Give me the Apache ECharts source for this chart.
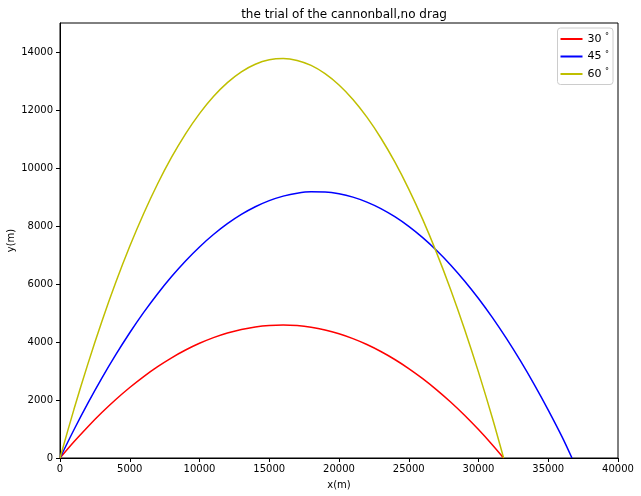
<!DOCTYPE html>
<html><head><meta charset="utf-8">
<script src="https://cdn.jsdelivr.net/npm/echarts@6/dist/echarts.min.js"></script>
<style>html,body{margin:0;padding:0;background:#fff}#c{width:641px;height:496px}</style>
</head><body><div id="c"></div>
<script>
const seriesNames = ['30', '45', '60'];
const colors = ['#ff0000', '#0000ff', '#bfbf00'];
const x30 = [0,1000,2000,3000,4000,5000,6000,7000,8000,9000,10000,11000,12000,13000,14000,15000,16000,17000,18000,19000,20000,21000,22000,23000,24000,25000,26000,27000,28000,29000,30000,31000,31800];
const y30 = [0,559,1081,1568,2018,2431,2809,3150,3455,3723,3955,4151,4311,4434,4521,4572,4587,4565,4507,4413,4282,4115,3912,3672,3397,3084,2736,2351,1931,1474,980,451,0];
const x45 = [0,1000,2000,3000,4000,5000,6000,7000,8000,9000,10000,11000,12000,13000,14000,15000,16000,17000,18000,19000,20000,21000,22000,23000,24000,25000,26000,27000,28000,29000,30000,31000,32000,33000,34000,35000,36000,36700];
const y45 = [0,973,1891,2755,3564,4319,5020,5666,6258,6795,7278,7706,8080,8399,8664,8875,9031,9133,9180,9173,9111,8995,8824,8600,8320,7986,7598,7155,6658,6106,5500,4840,4124,3355,2531,1653,720,0];
const x60 = [0,1000,2000,3000,4000,5000,6000,7000,8000,9000,10000,11000,12000,13000,14000,15000,16000,17000,18000,19000,20000,21000,22000,23000,24000,25000,26000,27000,28000,29000,30000,31000,31800];
const y60 = [0,1678,3246,4706,6057,7299,8432,9456,10372,11178,11876,12465,12945,13316,13578,13731,13775,13710,13537,13254,12863,12363,11753,11035,10208,9272,8228,7074,5812,4440,2961,1372,0];
const xTicks = {min: 0, max: 40000, interval: 5000};
const yTicks = {min: 0, max: 15000, interval: 2000};

const pairs = (xs, ys) => xs.map((x, i) => [x, ys[i]]);
const allData = [pairs(x30, y30), pairs(x45, y45), pairs(x60, y60)];
const font = 'DejaVu Sans';
const chart = echarts.init(document.getElementById('c'), null, {renderer: 'canvas'});
chart.setOption({
  animation: false,
  backgroundColor: '#fff',
  title: {text: 'the trial of the cannonball,no drag', left: 339, textAlign: 'center', top: 4,
    textStyle: {fontFamily: font, fontSize: 12, fontWeight: 'normal', color: '#000'}},
  grid: {left: 60, right: 23, top: 23, bottom: 38, show: true, borderColor: '#000', borderWidth: 1,
    containLabel: false, outerBoundsMode: 'none'},
  legend: {orient: 'vertical', right: 28, top: 28, data: seriesNames,
    icon: 'rect', itemWidth: 22, itemHeight: 2, itemGap: 6,
    padding: [5, 4, 5, 3], borderColor: '#cccccc', borderWidth: 1, borderRadius: 3,
    formatter: n => n + ' {d|°}',
    textStyle: {fontFamily: font, fontSize: 11, color: '#000',
      rich: {d: {fontFamily: font, fontSize: 8, color: '#000', verticalAlign: 'top', padding: [0, 0, 4, 0]}}}},
  xAxis: {type: 'value', min: xTicks.min, max: xTicks.max, interval: xTicks.interval,
    name: 'x(m)', nameLocation: 'middle', nameGap: 22, nameMoveOverlap: false,
    nameTextStyle: {fontFamily: font, fontSize: 10, color: '#000'},
    axisLine: {lineStyle: {color: '#000'}}, axisTick: {inside: false, length: 4, lineStyle: {color: '#000'}},
    axisLabel: {fontFamily: font, fontSize: 10, color: '#000', margin: 6, formatter: v => String(v)},
    splitLine: {show: false}},
  yAxis: {type: 'value', min: yTicks.min, max: yTicks.max, interval: yTicks.interval,
    name: 'y(m)', nameLocation: 'middle', nameGap: 44, nameRotate: 90, nameMoveOverlap: false,
    nameTextStyle: {fontFamily: font, fontSize: 10, color: '#000'},
    axisLine: {show: true, lineStyle: {color: '#000'}}, axisTick: {show: true, inside: false, length: 4, lineStyle: {color: '#000'}},
    axisLabel: {fontFamily: font, fontSize: 10, color: '#000', margin: 7, showMaxLabel: false, formatter: v => String(v)},
    splitLine: {show: false}},
  series: seriesNames.map((n, i) => ({
    name: n, type: 'line', data: allData[i], showSymbol: false, symbol: 'none', smooth: 0.3,
    lineStyle: {color: colors[i], width: 1.5}, itemStyle: {color: colors[i]}
  }))
});
</script></body></html>
